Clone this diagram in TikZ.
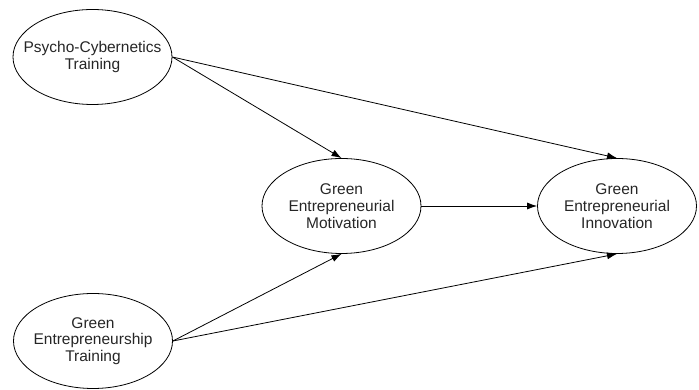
\documentclass[tikz,border=0pt]{standalone}
\usepackage{fontspec}
\setmainfont{Liberation Sans}
\usetikzlibrary{shapes.geometric,arrows.meta}

\begin{document}
\begin{tikzpicture}[x=1pt, y=1pt,
  construct/.style={ellipse, draw, line width=0.8pt, minimum width=159pt, minimum height=95pt,
    inner xsep=-25pt, inner ysep=-10pt, align=center, text=black!85,
    font=\fontsize{15.5}{16.7}\selectfont},
  path/.style={draw, line width=0.8pt, -{Latex[length=10pt, width=7pt]}}]
  \useasboundingbox (0,0) rectangle (699,390);

  \node[construct] (pct) at (92.5,333) {Psycho-Cybernetics\\Training};
  \node[construct] (gem) at (341.5,184) {Green\\Entrepreneurial\\Motivation};
  \node[construct] (gei) at (617,184) {Green\\Entrepreneurial\\Innovation};
  \node[construct] (get) at (93,49) {Green\\Entrepreneurship\\Training};

  % paths
  \draw[path] (pct.east) -- (gem.north);
  \draw[path] (pct.east) -- (gei.north);
  \draw[path] (gem.east) -- (gei.west);
  \draw[path] (get.east) -- (gem.south);
  \draw[path] (get.east) -- (gei.south);
\end{tikzpicture}
\end{document}
